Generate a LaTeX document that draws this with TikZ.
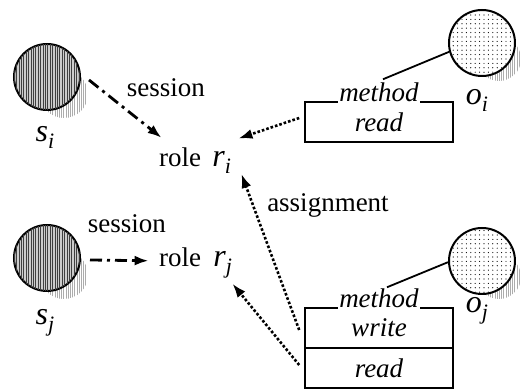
\documentclass[tikz,border=0pt]{standalone}
\usepackage{fontspec}
\setmainfont{Liberation Serif}
\usetikzlibrary{arrows.meta,patterns.meta}

% italic symbol with a lowered index
\newcommand{\idx}[2]{\textit{#1}\raisebox{-0.45ex}{\fontsize{11}{11}\selectfont\textit{#2}}}

\tikzset{
  subject/.style={circle, draw, line width=1pt, minimum size=33pt, inner sep=0pt,
    fill=gray!40,
    postaction={pattern={Lines[angle=90,distance=1.2pt,line width=0.5pt]}, pattern color=black!75}},
  object/.style={circle, draw, line width=1pt, minimum size=33pt, inner sep=0pt,
    fill=white,
    postaction={pattern={Dots[distance=2.2pt,radius=0.3pt]}, pattern color=black}},
  shadow/.style={pattern={Lines[angle=90,distance=1.1pt,line width=0.45pt]}, pattern color=gray!65},
  symbol/.style={font=\fontsize{16}{18}\selectfont, inner sep=1pt},
  label/.style={font=\fontsize{13.5}{15}\selectfont, inner sep=1pt},
  methodbox/.style={draw, line width=0.8pt, minimum width=74pt, minimum height=20pt,
    inner sep=0pt, font=\fontsize{13.5}{15}\selectfont\itshape},
  methodtag/.style={font=\fontsize{13.5}{15}\selectfont\itshape, fill=white,
    inner xsep=0.5pt, inner ysep=0.8pt, anchor=base},
  sessline/.style={line width=1.4pt, dash pattern=on 6pt off 2.5pt on 1.5pt off 2.5pt,
    -{Latex[length=7pt,width=5pt]}},
  assignline/.style={line width=1.3pt, densely dotted, -{Latex[length=7pt,width=5pt]}},
  objline/.style={line width=0.9pt}
}

\begin{document}
\begin{tikzpicture}[x=0.5pt,y=-0.5pt]
\useasboundingbox (0,0) rectangle (527,389);

% shadows behind the circles
\fill[shadow] (64,94) circle (12pt);
\fill[shadow] (64,275) circle (12pt);
\fill[shadow] (499,59) circle (11pt);
\fill[shadow] (499,277) circle (11pt);

% subjects
\node[subject] (si) at (47,77) {};
\node[subject] (sj) at (47,258) {};
\node[symbol, anchor=base] (sil) at (45,142) {\idx{s}{i}};
\node[symbol, anchor=base] (sjl) at (45,325) {\idx{s}{j}};

% objects
\node[object] (oi) at (482,43) {};
\node[object] (oj) at (482,261) {};
\node[symbol, anchor=base] (oil) at (477,105) {\idx{o}{i}};
\node[symbol, anchor=base] (ojl) at (477,313) {\idx{o}{j}};

% roles
\node[label, anchor=base] (rolei) at (180,167) {role};
\node[symbol, anchor=base west] (ri) at (210,167) {\idx{r}{i}};
\node[label, anchor=base] (rolej) at (180,267) {role};
\node[symbol, anchor=base west] (rj) at (211,267) {\idx{r}{j}};

% method boxes
\node[methodbox] (boxi) at (379,122) {read};
\node[methodbox] (boxjw) at (379,328) {write};
\node[methodbox] (boxjr) at (379,368) {read};
\node[methodtag] (methi) at (379,102) {method};
\node[methodtag] (methj) at (379,308) {method};

% edge labels
\node[label, anchor=base] (sessi) at (166,97) {session};
\node[label, anchor=base] (sessj) at (127,233) {session};
\node[label, anchor=base] (assign) at (328,212) {assignment};

% sessions
\draw[sessline] ([shift={(8,3)}]si.east) -- ([shift={(5,-8)}]rolei.north west);
\draw[sessline] ([shift={(9,2)}]sj.east) -- ([shift={(-8,3)}]rolej.west);

% assignments
\draw[assignline] ([shift={(-5,-4)}]boxi.west) -- ([shift={(5,-11)}]ri.north east);
\draw[assignline] ([shift={(-5,2)}]boxjw.west) -- ([shift={(8,-2)}]ri.south east);
\draw[assignline] ([shift={(-5,-3)}]boxjr.west) -- ([shift={(-2,3)}]rj.south east);

% methods belong to objects
\draw[objline] ([shift={(4,-2)}]methi.north) -- (oi.195);
\draw[objline] ([shift={(8,0)}]methj.north) -- (oj.182);

\end{tikzpicture}
\end{document}
